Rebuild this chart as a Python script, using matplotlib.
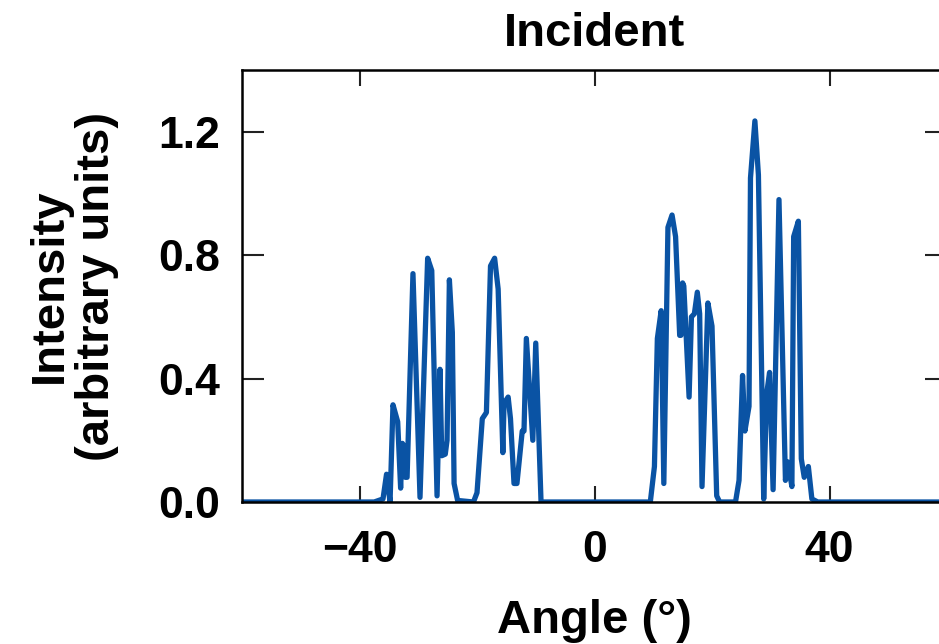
import matplotlib
matplotlib.use("Agg")
import matplotlib.pyplot as plt

plt.rcParams['font.family'] = ['Liberation Sans', 'DejaVu Sans']
plt.rcParams['font.weight'] = 'bold'

# incident beam profile: angle (deg) vs intensity
angle = [-60, -37.5, -36.0, -35.4, -34.8, -34.3, -33.5, -33.0, -32.7, -32.4,
         -32.2, -31.9, -30.9, -29.7, -28.4, -27.7, -26.8, -26.3, -26.0, -25.4,
         -25.1, -24.7, -24.2, -23.9, -23.3, -20.6, -20.0, -19.1, -18.4, -17.7,
         -17.0, -16.4, -15.6, -15.4, -14.7, -14.3, -13.7, -13.2, -12.3, -12.0,
         -11.6, -10.5, -10.0, -9.1,
         9.5, 10.2, 10.7, 11.35, 11.8, 12.5, 13.2, 13.8, 14.5, 14.7,
         15.0, 15.2, 16.1, 16.5, 17.0, 17.5, 17.9, 18.3, 19.3, 20.0,
         20.8, 21.3, 24.0, 24.6, 25.2, 25.6, 26.3, 26.55, 27.3, 27.9,
         28.8, 29.3, 29.8, 30.4, 31.4, 32.5, 32.9, 33.6, 33.9, 34.7,
         35.2, 35.7, 36.4, 37.0, 38.0, 60]
intensity = [0, 0, 0.01, 0.09, 0.0, 0.315, 0.26, 0.045, 0.19, 0.18,
             0.08, 0.08, 0.74, 0.015, 0.79, 0.75, 0.02, 0.43, 0.15, 0.155,
             0.2, 0.72, 0.55, 0.06, 0.005, 0.0, 0.03, 0.27, 0.29, 0.765,
             0.79, 0.69, 0.16, 0.32, 0.34, 0.27, 0.06, 0.06, 0.23, 0.23,
             0.53, 0.20, 0.515, 0.0,
             0.0, 0.115, 0.53, 0.62, 0.06, 0.89, 0.93, 0.86, 0.54, 0.54,
             0.71, 0.70, 0.34, 0.60, 0.61, 0.68, 0.61, 0.05, 0.645, 0.57,
             0.02, 0.0, 0.0, 0.07, 0.41, 0.23, 0.31, 1.05, 1.235, 1.06,
             0.01, 0.35, 0.42, 0.04, 0.98, 0.07, 0.13, 0.05, 0.86, 0.91,
             0.14, 0.08, 0.115, 0.01, 0.0, 0]

xticks = [-40, 0, 40]
yticks = [0.0, 0.4, 0.8, 1.2]
ytick_labels = ['0.0', '0.4', '0.8', '1.2']

fig = plt.figure(figsize=(9.39, 6.44), dpi=100)
ax = fig.add_axes([242 / 939, 1 - 502 / 644, 705 / 939, 432 / 644])

ax.plot(angle, intensity, color='#0a53a4', lw=3.8, solid_joinstyle='round')

ax.set_xlim(-60, 60)
ax.set_ylim(0, 1.4)
ax.set_xticks(xticks)
ax.set_yticks(yticks)
ax.set_yticklabels(ytick_labels)

for s in ax.spines.values():
    s.set_linewidth(1.8)
ax.tick_params(axis='x', direction='in', length=11.5, width=1.5, color='#222222',
               top=True, labelsize=32, pad=20)
ax.tick_params(axis='y', direction='in', length=16, width=1.5, color='#222222',
               right=True, labelsize=32, pad=16)

ax.set_title('Incident', fontsize=34, fontweight='bold', pad=17)
ax.set_xlabel('Angle (°)', fontsize=34, fontweight='bold', labelpad=20)
ax.set_ylabel('Intensity\n(arbitrary units)', fontsize=34, fontweight='bold',
              labelpad=28, linespacing=1.1)

fig.savefig('out.png', dpi=100)
